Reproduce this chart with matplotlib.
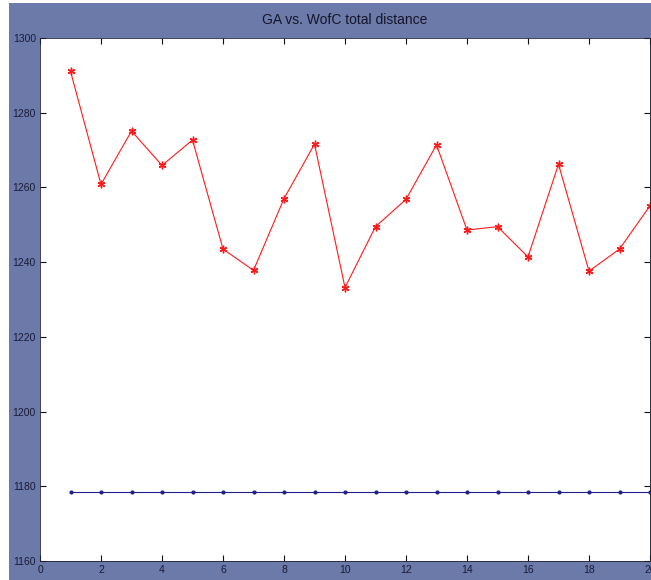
import matplotlib.pyplot as plt
from matplotlib.patches import Rectangle

# total distance per run
runs = list(range(1, 21))
ga_dist = [1291.1, 1260.8, 1275.1, 1265.9, 1272.7, 1243.5, 1237.8, 1257.0, 1271.6, 1233.2,
           1249.5, 1256.8, 1271.4, 1248.6, 1249.5, 1241.4, 1266.2, 1237.6, 1243.5, 1255.1]
wofc_dist = [1178.5] * 20

xticks = list(range(0, 21, 2))
yticks = list(range(1160, 1301, 20))

plt.rcParams['font.family'] = ['Liberation Sans', 'DejaVu Sans']

W, H = 651, 580
fig = plt.figure(figsize=(W / 100, H / 100), dpi=100, facecolor='white')
# matlab-ish grey-blue frame, kept behind the axes
frame = Rectangle((9 / W, 0), 1 - 9 / W, 1 - 3 / H, transform=fig.transFigure,
                  facecolor='#6b7aa8', edgecolor='none', zorder=-10)
fig.add_artist(frame)

ax = fig.add_axes([40 / W, 19 / H, 610 / W, 523 / H])
ax.set_zorder(5)
ax.set_facecolor('white')

ax.plot(runs, ga_dist, color='#ff1a1a', lw=0.8, marker=(6, 2, 0), ms=5.5, mew=1.0,
        mec='#ff1a1a', clip_on=False)
ax.plot(runs, wofc_dist, color='#1f1f8f', lw=0.8, marker='.', ms=4, clip_on=False)

ax.set_xlim(0, 20)
ax.set_ylim(1160, 1300)
ax.set_xticks(xticks)
ax.set_yticks(yticks)
ax.tick_params(direction='in', length=4, width=0.8, colors='#111111', labelcolor='#1a1a3a',
               labelsize=7.5, top=True, right=True, pad=3)
for s in ax.spines.values():
    s.set_color('#222233')
    s.set_linewidth(0.6)

fig.text(345 / W, 1 - 20 / H, 'GA vs. WofC total distance', ha='center', va='center',
         fontsize=10, color='#15152a')

fig.savefig('out.png', dpi=100, facecolor=fig.get_facecolor())
